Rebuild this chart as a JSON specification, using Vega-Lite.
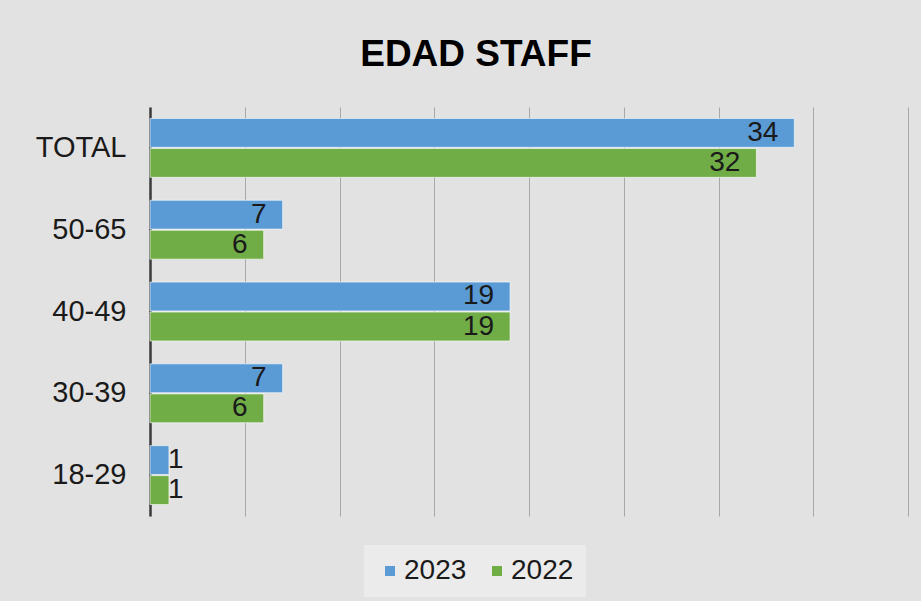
{
  "$schema": "https://vega.github.io/schema/vega-lite/v6.json",
  "width": 758,
  "height": 409,
  "autosize": {"type": "none"},
  "padding": {"left": 150, "top": 107, "right": 13, "bottom": 85},
  "background": "#e2e2e2",
  "title": {
    "text": "EDAD STAFF",
    "font": "Liberation Sans",
    "fontSize": 37,
    "fontWeight": "bold",
    "color": "#000000",
    "anchor": "middle",
    "frame": "group",
    "dx": -53,
    "offset": 33
  },
  "config": {
    "view": {"stroke": null},
    "font": "Liberation Sans"
  },
  "data": {
    "values": [
      {"group": "TOTAL", "year": "2023", "count": 34},
      {"group": "TOTAL", "year": "2022", "count": 32},
      {"group": "50-65", "year": "2023", "count": 7},
      {"group": "50-65", "year": "2022", "count": 6},
      {"group": "40-49", "year": "2023", "count": 19},
      {"group": "40-49", "year": "2022", "count": 19},
      {"group": "30-39", "year": "2023", "count": 7},
      {"group": "30-39", "year": "2022", "count": 6},
      {"group": "18-29", "year": "2023", "count": 1},
      {"group": "18-29", "year": "2022", "count": 1}
    ]
  },
  "encoding": {
    "y": {
      "field": "group",
      "type": "nominal",
      "sort": ["TOTAL", "50-65", "40-49", "30-39", "18-29"],
      "scale": {"paddingInner": 0.28, "paddingOuter": 0.14},
      "axis": {
        "title": null,
        "ticks": false,
        "labelPadding": 24,
        "labelFontSize": 29,
        "labelColor": "#1a1a1a",
        "labelFont": "Liberation Sans",
        "domainColor": "#3a3a3a",
        "domainWidth": 2.5,
        "grid": false
      }
    },
    "yOffset": {
      "field": "year",
      "type": "nominal",
      "sort": ["2023", "2022"],
      "scale": {"paddingInner": 0.04}
    },
    "x": {
      "field": "count",
      "type": "quantitative",
      "scale": {"domain": [0, 40], "nice": false},
      "axis": {
        "title": null,
        "labels": false,
        "ticks": false,
        "domain": false,
        "values": [0, 5, 10, 15, 20, 25, 30, 35, 40],
        "grid": true,
        "gridColor": "#a8a8a8",
        "gridWidth": 1
      }
    }
  },
  "layer": [
    {
      "mark": {"type": "bar", "stroke": "#ffffff", "strokeOpacity": 0.6, "strokeWidth": 1},
      "encoding": {
        "color": {
          "field": "year",
          "type": "nominal",
          "sort": ["2023", "2022"],
          "scale": {"domain": ["2023", "2022"], "range": ["#5b9bd5", "#70ad47"]},
          "legend": {
            "title": null,
            "orient": "none",
            "legendX": 214,
            "legendY": 438,
            "direction": "horizontal",
            "columns": 2,
            "symbolType": "square",
            "symbolSize": 100,
            "symbolStrokeWidth": 0,
            "labelFontSize": 28,
            "labelFont": "Liberation Sans",
            "labelColor": "#1a1a1a",
            "labelOffset": 0,
            "columnPadding": 16,
            "padding": 12,
            "fillColor": "#ebebeb"
          }
        }
      }
    },
    {
      "transform": [{"filter": "datum.count >= 2"}],
      "mark": {"type": "text", "align": "right", "baseline": "middle", "dx": -16, "fontSize": 28, "font": "Liberation Sans", "color": "#1a1a1a"},
      "encoding": {"text": {"field": "count", "type": "quantitative"}}
    },
    {
      "transform": [{"filter": "datum.count < 2"}],
      "mark": {"type": "text", "align": "left", "baseline": "middle", "dx": -1, "fontSize": 28, "font": "Liberation Sans", "color": "#1a1a1a"},
      "encoding": {"text": {"field": "count", "type": "quantitative"}}
    }
  ]
}
